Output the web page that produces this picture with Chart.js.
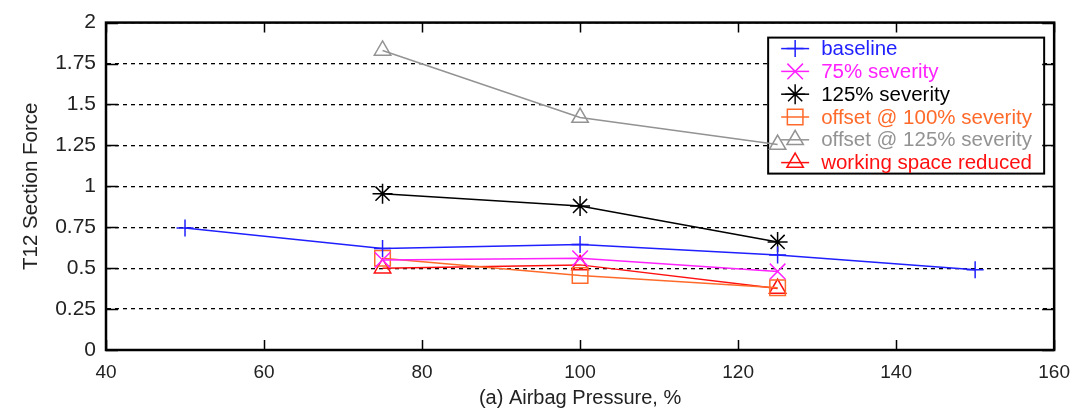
<!DOCTYPE html>
<html>
<head>
<meta charset="utf-8">
<script src="https://cdn.jsdelivr.net/npm/chart.js@4/dist/chart.umd.min.js"></script>
<style>
  html, body { margin: 0; padding: 0; background: #fff; }
  #wrap { width: 1081px; height: 418px; }
</style>
</head>
<body>
<div id="wrap"><canvas id="c" width="1081" height="418"></canvas></div>
<script>
// airbag pressure, %
const xTicks = [40, 60, 80, 100, 120, 140, 160];
const yTicks = [0, 0.25, 0.5, 0.75, 1, 1.25, 1.5, 1.75, 2];

const baselineX = [50, 75, 100, 125, 150];
const baseline = [0.745, 0.62, 0.645, 0.58, 0.49];

const sevX = [75, 100, 125];
const sev75 = [0.55, 0.56, 0.48];
const sev125 = [0.955, 0.88, 0.66];
const offset100 = [0.56, 0.455, 0.38];
const offset125 = [1.83, 1.42, 1.255];
const wsReduced = [0.5, 0.52, 0.375];

function pts(xs, ys) {
  return xs.map((x, i) => ({ x: x, y: ys[i] }));
}

function series(label, xs, ys, color, style, r) {
  return {
    label: label,
    data: pts(xs, ys),
    borderColor: color,
    backgroundColor: "rgba(0,0,0,0)",
    borderWidth: 1.5,
    pointStyle: style,
    pointRadius: r,
    pointHoverRadius: r,
    pointBorderColor: color,
    pointBackgroundColor: "rgba(0,0,0,0)",
    pointBorderWidth: 1.5,
    tension: 0,
    fill: false,
  };
}

const datasets = [
  series("baseline", baselineX, baseline, "#1f1fff", "cross", 8.5),
  series("75% severity", sevX, sev75, "#ff22ff", "crossRot", 11),
  series("125% severity", sevX, sev125, "#000000", "star", 10),
  series("offset @ 100% severity", sevX, offset100, "#ff6a2a", "rect", 11),
  series("offset @ 125% severity", sevX, offset125, "#939393", "triangle", 9.5),
  series("working space reduced", sevX, wsReduced, "#ff1010", "triangle", 9.5),
];

// frame with inward ticks on all four sides
const framePlugin = {
  id: "frame",
  afterDraw(chart) {
    const { ctx, chartArea: a, scales } = chart;
    ctx.save();
    ctx.strokeStyle = "#000";
    ctx.lineWidth = 1.5;
    ctx.beginPath();
    xTicks.forEach((v) => {
      const px = Math.round(scales.x.getPixelForValue(v)) + 0.5;
      ctx.moveTo(px, a.bottom); ctx.lineTo(px, a.bottom - 10);
      ctx.moveTo(px, a.top); ctx.lineTo(px, a.top + 10);
    });
    yTicks.forEach((v) => {
      const py = Math.round(scales.y.getPixelForValue(v)) + 0.5;
      ctx.moveTo(a.left, py); ctx.lineTo(a.left + 12, py);
      ctx.moveTo(a.right, py); ctx.lineTo(a.right - 12, py);
    });
    ctx.stroke();
    ctx.lineWidth = 2.5;
    ctx.strokeRect(a.left, a.top, a.right - a.left, a.bottom - a.top);
    ctx.restore();
  },
};

// boxed legend inside the plot, drawn under the data
const legendPlugin = {
  id: "boxLegend",
  beforeDatasetsDraw(chart) {
    const { ctx, chartArea: a } = chart;
    const w = 276, h = 136;
    const x0 = a.right - 10 - w, y0 = a.top + 15;
    ctx.save();
    ctx.fillStyle = "#fff";
    ctx.fillRect(x0, y0, w, h);
    ctx.strokeStyle = "#000";
    ctx.lineWidth = 2;
    ctx.strokeRect(x0, y0, w, h);
    ctx.font = "20.5px 'Liberation Sans', Arial, sans-serif";
    ctx.textBaseline = "middle";
    chart.data.datasets.forEach((ds, i) => {
      const y = y0 + 11 + i * 22.8;
      ctx.strokeStyle = ds.borderColor;
      ctx.lineWidth = 1.5;
      ctx.beginPath();
      ctx.moveTo(x0 + 13, y);
      ctx.lineTo(x0 + 41, y);
      ctx.stroke();
      ctx.fillStyle = "rgba(0,0,0,0)";
      Chart.helpers.drawPoint(ctx, {
        pointStyle: ds.pointStyle,
        radius: ds.pointRadius,
        borderWidth: 1.5,
      }, x0 + 27, y);
      ctx.fillStyle = ds.borderColor;
      ctx.fillText(ds.label, x0 + 53, y + 1);
    });
    ctx.restore();
  },
};

new Chart(document.getElementById("c").getContext("2d"), {
  type: "line",
  data: { datasets: datasets },
  plugins: [legendPlugin, framePlugin],
  options: {
    responsive: false,
    animation: false,
    layout: { padding: { top: 17, right: 23, left: 0, bottom: 0 } },
    plugins: { legend: { display: false }, tooltip: { enabled: false } },
    scales: {
      x: {
        type: "linear",
        min: 40,
        max: 160,
        afterBuildTicks(s) { s.ticks = xTicks.map((v) => ({ value: v })); },
        afterFit(s) { s.height = 68; },
        grid: { display: false, drawTicks: false },
        border: { display: false },
        ticks: {
          padding: 11,
          color: "#222",
          font: { family: "'Liberation Sans', Arial", size: 19 },
        },
        title: {
          display: true,
          text: "(a) Airbag Pressure, %",
          color: "#222",
          padding: { top: 0, bottom: 8 },
          font: { family: "'Liberation Sans', Arial", size: 20 },
        },
      },
      y: {
        type: "linear",
        min: 0,
        max: 2,
        afterBuildTicks(s) { s.ticks = yTicks.map((v) => ({ value: v })); },
        afterFit(s) { s.width = 106; },
        grid: {
          color: "#000",
          lineWidth: 1.3,
          drawTicks: false,
        },
        border: { display: true, color: "#000", dash: [4, 4] },
        ticks: {
          padding: 10,
          color: "#222",
          font: { family: "'Liberation Sans', Arial", size: 21 },
          callback: (v) => String(v),
        },
        title: {
          display: true,
          text: "T12 Section Force",
          color: "#222",
          padding: { top: 19, bottom: 0 },
          font: { family: "'Liberation Sans', Arial", size: 20.5 },
        },
      },
    },
  },
});
</script>
</body>
</html>
